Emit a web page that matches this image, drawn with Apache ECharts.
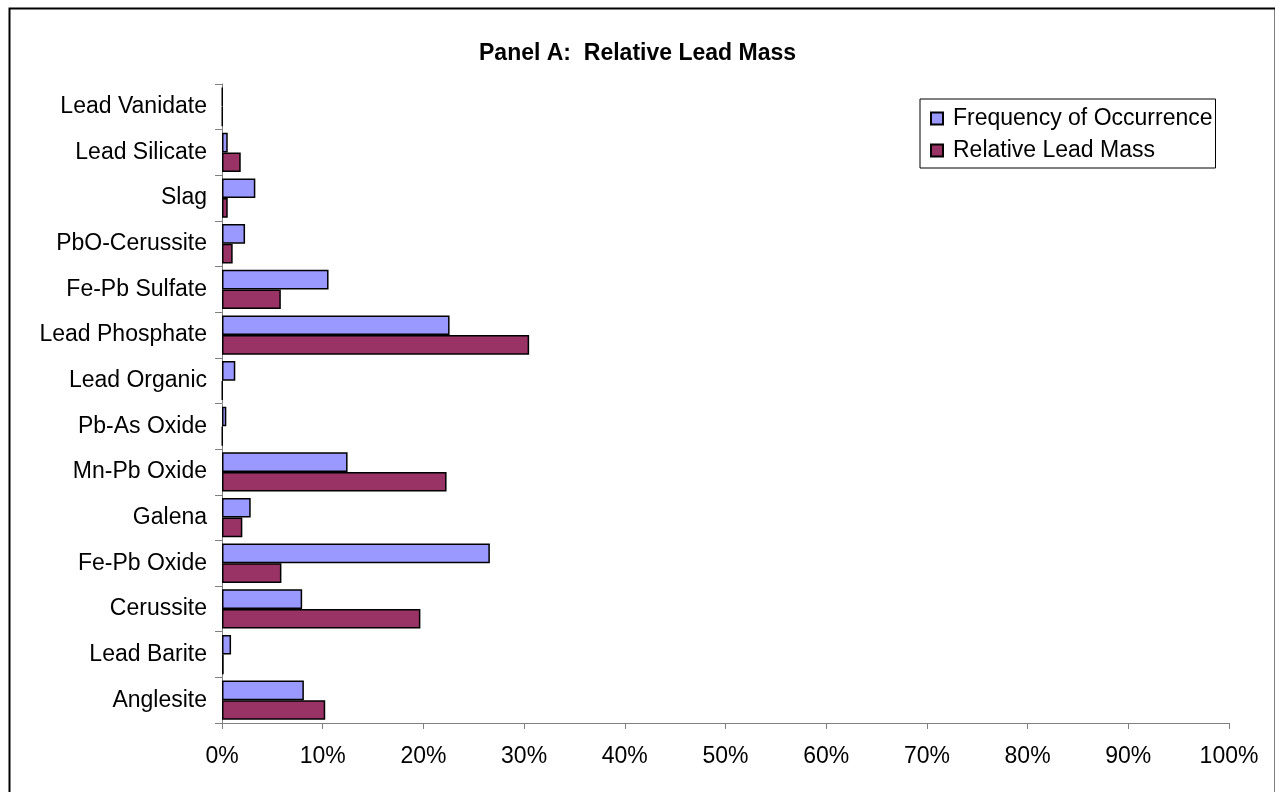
<!DOCTYPE html>
<html>
<head>
<meta charset="utf-8">
<script src="https://cdn.jsdelivr.net/npm/echarts@6/dist/echarts.min.js"></script>
<style>
html,body{margin:0;padding:0;background:#fff;}
#chart{width:1275px;height:792px;}
</style>
</head>
<body>
<div id="chart"></div>
<script>
const categories = ["Lead Vanidate","Lead Silicate","Slag","PbO-Cerussite","Fe-Pb Sulfate","Lead Phosphate","Lead Organic","Pb-As Oxide","Mn-Pb Oxide","Galena","Fe-Pb Oxide","Cerussite","Lead Barite","Anglesite"];
const frequency = [0.05, 0.57, 3.31, 2.29, 10.58, 22.6, 1.32, 0.43, 12.47, 2.85, 26.6, 7.96, 0.9, 8.13];
const leadMass  = [0.05, 1.86, 0.57, 1.06, 5.84, 30.5, 0.05, 0.05, 22.3, 2.02, 5.9, 19.7, 0.17, 10.25];
const xTicks = [0,10,20,30,40,50,60,70,80,90,100];

const chart = echarts.init(document.getElementById('chart'), null, {renderer:'canvas'});
const font = 'Arial, "Liberation Sans", sans-serif';
chart.setOption({
  animation:false,
  backgroundColor:'#fff',
  title:{
    text:'Panel A:  Relative Lead Mass',
    left:'center', top:37,
    textStyle:{fontFamily:font,fontSize:23,fontWeight:'bold',color:'#000'}
  },
  graphic:[{
    type:'rect', left:7, top:6,
    shape:{width:1266,height:820},
    style:{fill:null,stroke:'#000',lineWidth:2},
    silent:true, z:-1
  }],
  legend:{
    orient:'vertical', left:920, top:99,
    padding:[8,3,6,10],
    itemGap:9,
    borderColor:'#000', borderWidth:1,
    itemWidth:12, itemHeight:12,
    icon:'rect',
    textStyle:{fontFamily:font,fontSize:23,color:'#000',padding:[0,0,0,5]},
    data:['Frequency of Occurrence','Relative Lead Mass']
  },
  grid:{left:222,right:46,top:84,bottom:69,containLabel:false},
  xAxis:{
    type:'value', min:0, max:100, interval:10,
    axisLine:{show:true,lineStyle:{color:'#808080',width:1}},
    axisTick:{show:true,length:6,lineStyle:{color:'#808080'}},
    splitLine:{show:false},
    axisLabel:{margin:22,fontFamily:font,fontSize:23,color:'#000',formatter:v=>v+'%'}
  },
  yAxis:{
    type:'category', data:categories, inverse:true,
    axisLine:{show:true,lineStyle:{color:'#808080',width:1}},
    axisTick:{show:true,length:7,lineStyle:{color:'#808080'}},
    axisLabel:{margin:15,fontFamily:font,fontSize:23,color:'#000'}
  },
  series:[
    {name:'Frequency of Occurrence',type:'bar',data:frequency,
     barGap:'0%',barCategoryGap:'14%',
     itemStyle:{color:'#9999FF',borderColor:'#000',borderWidth:1.5}},
    {name:'Relative Lead Mass',type:'bar',data:leadMass,
     barGap:'0%',barCategoryGap:'14%',
     itemStyle:{color:'#993366',borderColor:'#000',borderWidth:1.5}}
  ]
});
</script>
</body>
</html>
